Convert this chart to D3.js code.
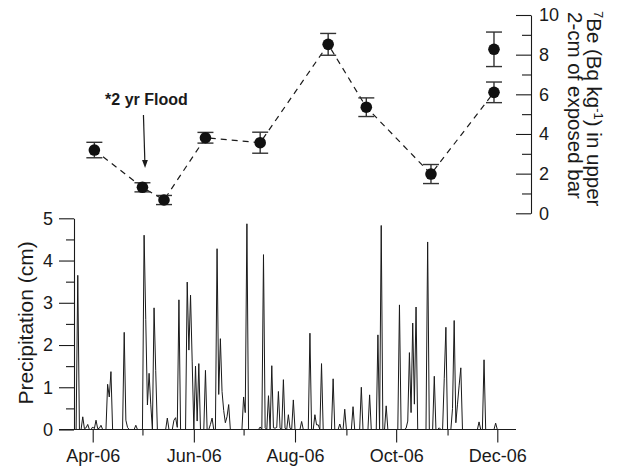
<!DOCTYPE html>
<html>
<head>
<meta charset="utf-8">
<script src="https://cdn.jsdelivr.net/npm/d3@7"></script>
<style>
  html, body { margin: 0; padding: 0; background: #fff; }
  svg { display: block; font-family: "Liberation Sans", Arial, Helvetica, sans-serif; }
</style>
</head>
<body>
<svg id="chart" width="630" height="468"></svg>
<script>
// Daily precipitation (cm), one value per day beginning 22 Mar 2006
const precipStart = "2006-03-22";
const precipitation = [
  0, 3.65, 0, 0, 0.30, 0.02, 0.04, 0.12, 0, 0,
  0.06, 0.02, 0.22, 0.02, 0.03, 0.10, 0, 0, 0, 1.07,
  0.77, 1.37, 0, 0, 0, 0, 0, 0, 0, 2.30,
  0.22, 0.05, 0, 0, 0, 0, 0.10, 0, 0, 0,
  0, 4.60, 2.60, 0.58, 1.33, 0.60, 0, 2.88, 1.40, 0,
  0, 0, 0, 0, 0, 0.27, 0, 0, 0, 0.22,
  0.28, 0.05, 3.07, 0, 0, 0, 0, 3.49, 1.88, 3.18,
  1.60, 0, 1.50, 0.20, 1.56, 0, 0, 0, 1.40, 0,
  0, 0.12, 0.27, 0, 0, 4.28, 0.83, 2.15, 0.90, 0.45,
  0.16, 0.30, 0.59, 0, 0, 0, 0, 0, 0, 0,
  0, 0.77, 0.40, 4.87, 0, 0, 0, 0, 0, 0,
  0, 0.06, 0, 4.14, 0.04, 0, 0.80, 0, 1.51, 0.04,
  0.03, 0.05, 0.90, 0.03, 0, 1.18, 0.03, 0, 0.35, 0.03,
  0, 0.70, 0, 0, 0, 0, 0.19, 0, 0, 0,
  0, 2.28, 0, 0, 0.35, 0.11, 0.11, 0, 1.56, 0,
  0, 0, 0, 0, 0, 1.20, 0, 0, 0, 0.13,
  0, 0, 0.48, 0, 0, 0, 0, 0.54, 0, 0,
  0, 0, 1.00, 0, 0, 0, 0, 0.82, 0, 0,
  0, 0, 2.24, 0, 4.83, 0, 0, 0.56, 0, 0,
  0, 0, 0, 0, 0, 2.95, 0, 0, 0, 0.03,
  0.20, 1.82, 0.40, 2.52, 0.60, 2.90, 0, 0, 0, 0,
  0, 0, 4.44, 0, 0, 0, 1.26, 0, 0, 0.04,
  0, 0, 1.20, 2.42, 0, 0, 0, 0.50, 2.58, 0.16,
  0.60, 1.05, 1.46, 0, 0, 0, 0, 0, 0, 0,
  0, 0, 0, 0.18, 0, 0, 1.65, 0, 0, 0,
  0, 0, 0, 0.15, 0, 0, 0, 0
];

// 7Be activity in the upper 2 cm of the exposed bar (Bq/kg) with +/- error
const beDates  = ["2006-04-02", "2006-05-01", "2006-05-14", "2006-06-08", "2006-07-11",
                  "2006-08-21", "2006-09-13", "2006-10-22", "2006-11-29", "2006-11-29"];
const beValues = [3.19, 1.31, 0.67, 3.81, 3.56, 8.52, 5.35, 1.98, 6.10, 8.27];
const beErrors = [0.39, 0.23, 0.23, 0.27, 0.53, 0.55, 0.47, 0.48, 0.52, 0.87];
// samples joined by the dashed line (the duplicate late-November sample stands alone)
const beJoined = [true, true, true, true, true, true, true, true, true, false];

// axis ticks
const majorMonths = ["2006-04-01", "2006-06-01", "2006-08-01", "2006-10-01", "2006-12-01"];
const majorMonthLabels = ["Apr-06", "Jun-06", "Aug-06", "Oct-06", "Dec-06"];
const minorMonths = ["2006-05-01", "2006-07-01", "2006-09-01", "2006-11-01"];
const precipTicks = [0, 1, 2, 3, 4, 5];
const precipMinorTicks = [0.5, 1.5, 2.5, 3.5, 4.5];
const beTicks = [0, 2, 4, 6, 8, 10];
const beMinorTicks = [1, 3, 5, 7, 9];

const floodDate = "2006-05-01";
const floodLabel = "*2 yr Flood";

const parse = d3.utcParse("%Y-%m-%d");
const svg = d3.select("#chart");
const ink = "#1a1a1a";

// shared time axis
const x = d3.scaleUtc()
  .domain([parse("2006-04-01"), parse("2006-12-01")])
  .range([92.7, 497.3]);

const yP = d3.scaleLinear().domain([0, 5]).range([429.5, 218.3]);
const yB = d3.scaleLinear().domain([0, 10]).range([213.3, 15]);

// ---------- precipitation series ----------
const start = parse(precipStart);
const precipSeries = precipitation.map((v, i) => ({ date: d3.utcDay.offset(start, i), value: v }));

svg.append("path")
  .datum(precipSeries)
  .attr("fill", "none")
  .attr("stroke", ink)
  .attr("stroke-width", 1)
  .attr("stroke-linejoin", "miter")
  .attr("d", d3.line().x(d => x(d.date)).y(d => yP(d.value)));

// left axis
svg.append("g").attr("transform", "translate(74,0)")
  .call(d3.axisLeft(yP).tickValues(precipTicks).tickSize(15).tickSizeOuter(0).tickPadding(6)
    .tickFormat(d3.format("d")));
svg.append("g").attr("transform", "translate(74,0)")
  .call(d3.axisLeft(yP).tickValues(precipMinorTicks).tickSize(8).tickFormat(""))
  .call(g => g.select(".domain").remove());

// bottom axis
svg.append("g").attr("transform", `translate(0,${yP(0)})`)
  .call(d3.axisBottom(x).tickValues(majorMonths.map(parse)).tickSize(13).tickPadding(7)
    .tickFormat((d, i) => majorMonthLabels[i]))
  .call(g => g.select(".domain").remove());
svg.append("g").attr("transform", `translate(0,${yP(0)})`)
  .call(d3.axisBottom(x).tickValues(minorMonths.map(parse)).tickSize(6).tickFormat(""))
  .call(g => g.select(".domain").remove());
svg.append("line")
  .attr("x1", 59).attr("x2", 516)
  .attr("y1", yP(0)).attr("y2", yP(0))
  .attr("stroke", ink).attr("stroke-width", 1.1);

// right axis for 7Be
svg.append("g").attr("transform", "translate(531,0)")
  .call(d3.axisRight(yB).tickValues(beTicks).tickSize(-15).tickSizeOuter(0).tickPadding(8)
    .tickFormat(d3.format("d")));
svg.append("g").attr("transform", "translate(531,0)")
  .call(d3.axisRight(yB).tickValues(beMinorTicks).tickSize(-9).tickFormat(""))
  .call(g => g.select(".domain").remove());

svg.selectAll(".tick line, .domain").attr("stroke", ink).attr("stroke-width", 1.1);
svg.selectAll(".tick text").attr("font-size", 18).attr("fill", ink)
  .attr("font-family", "'Liberation Sans', Arial, sans-serif");

// axis titles
svg.append("text")
  .attr("transform", `translate(33,${(yP(0) + yP(5)) / 2 - 1}) rotate(-90)`)
  .attr("text-anchor", "middle")
  .attr("font-size", 21)
  .attr("fill", ink)
  .text("Precipitation (cm)");

const beTitle = svg.append("text")
  .attr("transform", "translate(587,11) rotate(90)")
  .attr("font-size", 20.5)
  .attr("fill", ink);
const l1 = beTitle.append("tspan").attr("x", 0).attr("y", 0);
l1.append("tspan").attr("font-size", 13).attr("dy", -7).text("7");
l1.append("tspan").attr("dy", 7).text("Be (Bq kg");
l1.append("tspan").attr("font-size", 13).attr("dy", -7).text("-1");
l1.append("tspan").attr("dy", 7).text(") in upper");
beTitle.append("tspan").attr("x", 1).attr("y", 19.5).text("2-cm of exposed bar");

// ---------- 7Be samples ----------
const beData = beDates.map((d, i) => ({
  date: parse(d), value: beValues[i], err: beErrors[i], joined: beJoined[i]
}));

svg.append("path")
  .datum(beData.filter(d => d.joined))
  .attr("fill", "none")
  .attr("stroke", ink)
  .attr("stroke-width", 1.2)
  .attr("stroke-dasharray", "6,5")
  .attr("d", d3.line().x(d => x(d.date)).y(d => yB(d.value)));

const bars = svg.append("g").attr("stroke", "#333").attr("stroke-width", 1.4);
beData.forEach(d => {
  const cx = x(d.date), top = yB(d.value + d.err), bot = yB(d.value - d.err);
  bars.append("line").attr("x1", cx).attr("x2", cx).attr("y1", top).attr("y2", bot);
  bars.append("line").attr("x1", cx - 8).attr("x2", cx + 8).attr("y1", top).attr("y2", top);
  bars.append("line").attr("x1", cx - 8).attr("x2", cx + 8).attr("y1", bot).attr("y2", bot);
});

svg.append("g").selectAll("circle")
  .data(beData)
  .join("circle")
  .attr("cx", d => x(d.date))
  .attr("cy", d => yB(d.value))
  .attr("r", 5.8)
  .attr("fill", "#111");

// flood annotation
const fx = x(parse(floodDate));
svg.append("text")
  .attr("x", fx + 4).attr("y", 105)
  .attr("text-anchor", "middle")
  .attr("font-size", 16)
  .attr("font-weight", "bold")
  .attr("fill", ink)
  .text(floodLabel);
svg.append("line")
  .attr("x1", fx + 1).attr("y1", 115)
  .attr("x2", fx + 2.4).attr("y2", 161)
  .attr("stroke", ink).attr("stroke-width", 1.2);
svg.append("path")
  .attr("d", `M${fx - 0.4},160 L${fx + 5.4},160 L${fx + 2.6},168 Z`)
  .attr("fill", ink);
</script>
</body>
</html>
